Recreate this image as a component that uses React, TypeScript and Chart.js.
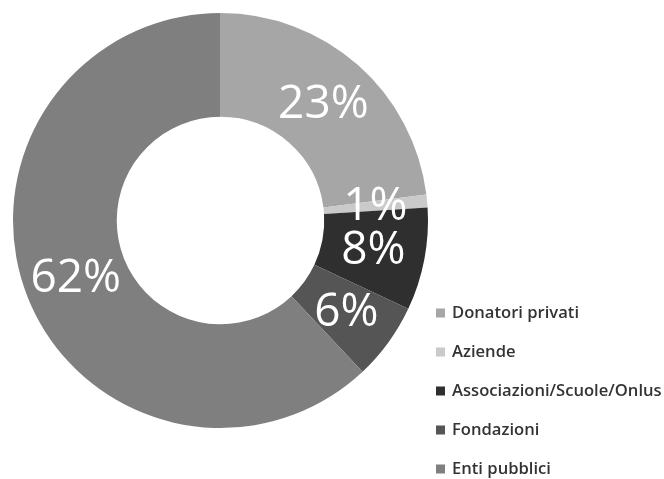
import React, { useEffect, useRef } from "react";
import { Chart, registerables } from "chart.js";

Chart.register(...registerables);

const categories = [
  "Donatori privati",
  "Aziende",
  "Associazioni/Scuole/Onlus",
  "Fondazioni",
  "Enti pubblici",
];
const values = [23, 1, 8, 6, 62];
const valueLabels = ["23%", "1%", "8%", "6%", "62%"];
const colors = ["#a6a6a6", "#cacaca", "#2f2f2f", "#555555", "#7f7f7f"];

const labelPlugin = {
  id: "sliceLabels",
  afterDatasetsDraw(chart: any) {
    const ctx = chart.ctx;
    const meta = chart.getDatasetMeta(0);
    ctx.save();
    ctx.fillStyle = "#ffffff";
    ctx.font = "400 46px 'Open Sans'";
    ctx.textAlign = "center";
    ctx.textBaseline = "middle";
    meta.data.forEach((arc: any, i: number) => {
      const p = arc.tooltipPosition();
      ctx.fillText(valueLabels[i], p.x, p.y + 1);
    });
    ctx.restore();
  },
};

const legendPlugin = {
  id: "customLegend",
  afterDraw(chart: any) {
    const ctx = chart.ctx;
    const ds = chart.data.datasets[0];
    const x0 = chart.chartArea.right + 8;
    const yStart = chart.chartArea.bottom - 115;
    const step = 39;
    ctx.save();
    ctx.font = "600 16.6px 'Open Sans'";
    ctx.textBaseline = "middle";
    ctx.textAlign = "left";
    chart.data.labels.forEach((lab: string, i: number) => {
      const y = yStart + i * step;
      ctx.fillStyle = ds.backgroundColor[i];
      ctx.fillRect(x0, y - 4.5, 9, 9);
      ctx.fillStyle = "#333333";
      ctx.fillText(lab, x0 + 16, y);
    });
    ctx.restore();
  },
};

export default function App() {
  const ref = useRef<HTMLCanvasElement | null>(null);
  useEffect(() => {
    document.body.style.margin = "0";
    if (!ref.current) return;
    const chart = new Chart(ref.current, {
      type: "doughnut",
      data: {
        labels: categories,
        datasets: [
          {
            data: values,
            backgroundColor: colors,
            borderWidth: 0,
          },
        ],
      },
      options: {
        animation: false,
        responsive: false,
        cutout: "50%",
        layout: { padding: { left: 13, top: 13, right: 236, bottom: 51 } },
        plugins: {
          legend: { display: false },
          tooltip: { enabled: false },
        },
      },
      plugins: [labelPlugin, legendPlugin],
    });
    return () => chart.destroy();
  }, []);
  return (
    <div style={{ width: 664, height: 479, background: "#fff" }}>
      <canvas ref={ref} width={664} height={479} style={{ display: "block" }} />
    </div>
  );
}
